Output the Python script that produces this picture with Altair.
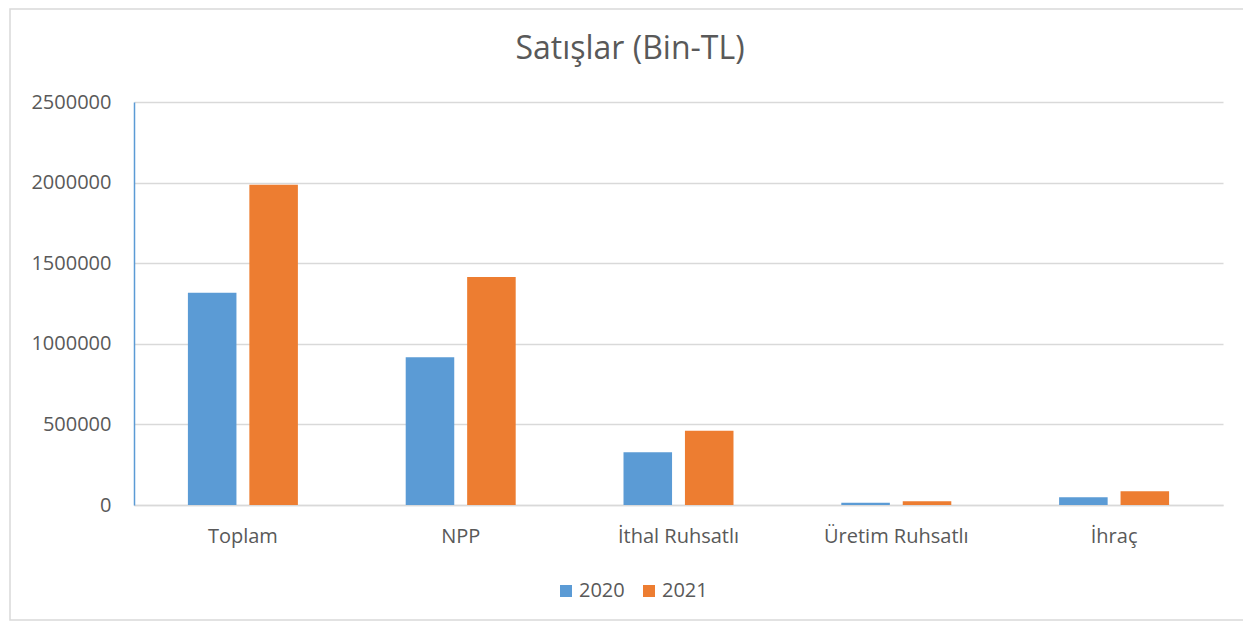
import altair as alt
import pandas as pd

categories = ["Toplam", "NPP", "İthal Ruhsatlı", "Üretim Ruhsatlı", "İhraç"]
years = ["2020", "2021"]
values_2020 = [1316000, 917000, 326500, 14000, 48000]
values_2021 = [1987000, 1415000, 461000, 23000, 85000]
y_ticks = [0, 500000, 1000000, 1500000, 2000000, 2500000]
title_text = "Satışlar (Bin-TL)"

rows = []
for c, v in zip(categories, values_2020):
    rows.append({"Kategori": c, "Yıl": "2020", "Değer": v})
for c, v in zip(categories, values_2021):
    rows.append({"Kategori": c, "Yıl": "2021", "Değer": v})
df = pd.DataFrame(rows)

FONT = "Open Sans"
TXT = "#595959"
GRID = "#d9d9d9"
FS = 20

bars = alt.Chart(df).mark_bar().encode(
    x=alt.X("Kategori:N", sort=categories, title=None,
            scale=alt.Scale(paddingInner=0.495, paddingOuter=0.2475),
            axis=alt.Axis(labelAngle=0, ticks=False, domainColor=GRID, domainWidth=1.5,
                          labelPadding=21, labelFontSize=FS, labelColor=TXT, labelFont=FONT)),
    xOffset=alt.XOffset("Yıl:N", sort=years, scale=alt.Scale(paddingInner=0.21, paddingOuter=0)),
    y=alt.Y("Değer:Q", title=None,
            scale=alt.Scale(domain=[0, 2500000], nice=False),
            axis=alt.Axis(values=y_ticks, format="d", ticks=False, domainColor="#5B9BD5",
                          domainWidth=1.5, gridColor=GRID, gridWidth=1.5,
                          labelPadding=23, labelFontSize=FS, labelColor=TXT, labelFont=FONT)),
    color=alt.Color("Yıl:N", sort=years,
                    scale=alt.Scale(domain=years, range=["#5B9BD5", "#ED7D31"]),
                    legend=alt.Legend(title=None, orient="none", direction="horizontal",
                                      legendX=422, legendY=479, symbolType="square",
                                      symbolSize=144, symbolStrokeWidth=0, labelFontSize=FS,
                                      labelColor=TXT, labelFont=FONT, columnPadding=14,
                                      labelOffset=3, padding=0)),
)

one = pd.DataFrame({"t": [title_text]})

border = alt.Chart(one).mark_rect(
    fillOpacity=0, stroke=GRID, strokeWidth=1.5
).encode(x=alt.value(-124), x2=alt.value(1140), y=alt.value(-93), y2=alt.value(518))

title = alt.Chart(one).mark_text(
    font=FONT, fontSize=32, color=TXT, align="center", baseline="middle"
).encode(text="t:N", x=alt.value(496), y=alt.value(-53))

chart = alt.layer(border, title, bars).properties(
    width=1089, height=403,
    autosize=alt.AutoSizeParams(type="none"),
    padding={"left": 126, "top": 94, "right": 20, "bottom": 118},
).configure_view(stroke=None).configure_axis(grid=True)
chart = chart.configure_axisX(grid=False)

chart.save("out.html", embed_options={"renderer": "svg", "actions": False})
